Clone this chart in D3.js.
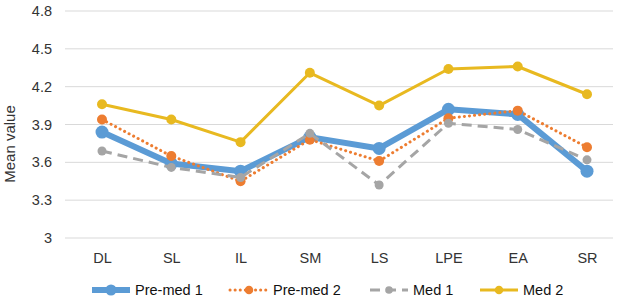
<!DOCTYPE html>
<html lang="en">
<head>
    <meta charset="UTF-8">
    <title>Mean value by phase</title>
    <script src="https://d3js.org/d3.v7.min.js"></script>
    <style>
        body { margin: 0; background: #fff; }
        text { font-family: "Liberation Sans", Arial, sans-serif; }
    </style>
</head>
<body>
    <div id="chart-container"></div>

    <script>
        // categories and series values
        const categories = ["DL", "SL", "IL", "SM", "LS", "LPE", "EA", "SR"];
        const preMed1 = [3.84, 3.59, 3.53, 3.80, 3.71, 4.02, 3.98, 3.53];
        const preMed2 = [3.94, 3.65, 3.45, 3.78, 3.61, 3.95, 4.01, 3.72];
        const med1 = [3.69, 3.56, 3.48, 3.83, 3.42, 3.91, 3.86, 3.62];
        const med2 = [4.06, 3.94, 3.76, 4.31, 4.05, 4.34, 4.36, 4.14];
        const yTicks = [3, 3.3, 3.6, 3.9, 4.2, 4.5, 4.8];

        const series = [
            {name: "Pre-med 1", values: preMed1, color: "#5b9bd5", width: 6, dash: null, r: 6.5, legendX: 92},
            {name: "Pre-med 2", values: preMed2, color: "#ed7d31", width: 3, dash: "0.1,5", r: 5, legendX: 230},
            {name: "Med 1", values: med1, color: "#a5a5a5", width: 3, dash: "10,6", r: 4.5, legendX: 370},
            {name: "Med 2", values: med2, color: "#e8b920", width: 3, dash: null, r: 5, legendX: 480}
        ];

        const width = 622;
        const height = 307;
        const fontSize = "14.5px";

        const svg = d3.select("#chart-container")
            .append("svg")
            .attr("width", width)
            .attr("height", height);

        const xScale = d3.scalePoint()
            .domain(categories)
            .range([102, 587]);
        const yScale = d3.scaleLinear()
            .domain([3, 4.8])
            .range([238, 11]);

        // gridlines
        svg.selectAll("line.grid")
            .data(yTicks)
            .enter()
            .append("line")
            .attr("class", "grid")
            .attr("x1", 65)
            .attr("x2", 613)
            .attr("y1", d => yScale(d))
            .attr("y2", d => yScale(d))
            .attr("stroke", "#d9d9d9")
            .attr("stroke-width", 1);

        // y axis labels
        const yAxis = d3.axisLeft(yScale)
            .tickValues(yTicks)
            .tickFormat(d3.format("~g"))
            .tickSize(0)
            .tickPadding(0);
        const gy = svg.append("g")
            .attr("transform", "translate(52, 0)")
            .call(yAxis);
        gy.select(".domain").remove();
        gy.selectAll("text")
            .attr("font-size", fontSize)
            .attr("fill", "#333");

        // x axis labels
        const xAxis = d3.axisBottom(xScale).tickSize(0).tickPadding(0);
        const gx = svg.append("g")
            .attr("transform", "translate(0, 253)")
            .call(xAxis);
        gx.select(".domain").remove();
        gx.selectAll("text")
            .attr("font-size", fontSize)
            .attr("fill", "#333");

        // y axis title
        svg.append("text")
            .attr("transform", "translate(15, 144) rotate(-90)")
            .attr("text-anchor", "middle")
            .attr("font-size", "15px")
            .attr("fill", "#333")
            .text("Mean value");

        const line = d3.line()
            .x((d, i) => xScale(categories[i]))
            .y(d => yScale(d));

        series.forEach(s => {
            svg.append("path")
                .datum(s.values)
                .attr("d", line)
                .attr("fill", "none")
                .attr("stroke", s.color)
                .attr("stroke-width", s.width)
                .attr("stroke-linejoin", "round")
                .attr("stroke-linecap", s.dash === "0.1,5" ? "round" : "butt")
                .attr("stroke-dasharray", s.dash);

            svg.selectAll(null)
                .data(s.values)
                .enter()
                .append("circle")
                .attr("cx", (d, i) => xScale(categories[i]))
                .attr("cy", d => yScale(d))
                .attr("r", s.r)
                .attr("fill", s.color);
        });

        // legend
        const legendY = 290;
        series.forEach(s => {
            const g = svg.append("g");
            g.append("line")
                .attr("x1", s.legendX)
                .attr("x2", s.legendX + 38)
                .attr("y1", legendY)
                .attr("y2", legendY)
                .attr("stroke", s.color)
                .attr("stroke-width", s.width)
                .attr("stroke-linecap", s.dash === "0.1,5" ? "round" : "butt")
                .attr("stroke-dasharray", s.dash);
            g.append("circle")
                .attr("cx", s.legendX + 19)
                .attr("cy", legendY)
                .attr("r", s.r * 0.85)
                .attr("fill", s.color);
            g.append("text")
                .attr("x", s.legendX + 43)
                .attr("y", legendY + 5)
                .attr("font-size", fontSize)
                .attr("fill", "#111")
                .text(s.name);
        });
    </script>
</body>
</html>
